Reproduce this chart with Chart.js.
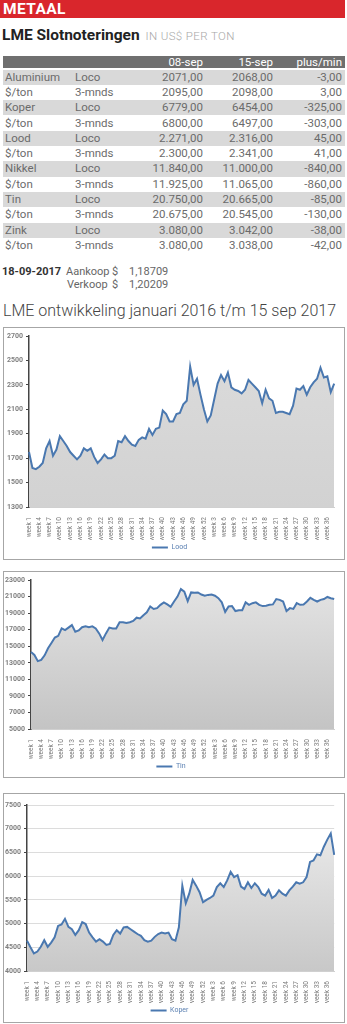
<!DOCTYPE html>
<html>
<head>
<meta charset="utf-8">
<script src="https://cdn.jsdelivr.net/npm/chart.js@4.4.0/dist/chart.umd.min.js"></script>
<style>
  body { margin: 0; width: 347px; height: 1024px; background: #fff; position: relative; overflow: hidden;
         font-family: Roboto, "DejaVu Sans", sans-serif; }
  .bar { position: absolute; left: 0; top: 0; width: 345px; height: 18px; background: #d9262c; }
  .bar span { position: absolute; left: 3px; top: 0; line-height: 19px; font-size: 15.5px; font-weight: 700; color: #fff; letter-spacing: 0.4px; }
  .title { position: absolute; left: 2px; top: 26px; font-size: 15.5px; font-weight: 700; color: #222; white-space: nowrap; }
  .title small { font-size: 11.5px; font-weight: 300; color: #a8a8a8; margin-left: 2px; letter-spacing: 0.4px; }
  .row { position: absolute; left: 3px; width: 342px; height: 15.3px; line-height: 15.3px; font-size: 11.5px; color: #6b6b6b; }
  .row.grey { background: #d9d9d9; }
  .row.head { height: 12px; line-height: 13px; background: #6f6f6f; color: #fff; }
  .row div { position: absolute; top: 0; white-space: nowrap; }
  .c1 { left: 2px; } .c2 { left: 72px; }
  .c3 { right: 142px; } .c4 { right: 72px; } .c5 { right: 3px; }
  .rate { position: absolute; font-size: 11px; color: #666; white-space: nowrap; line-height: 13px; }
  .rate b { color: #333; }
  .sub { position: absolute; left: 3px; top: 301px; font-size: 16px; font-weight: 300; color: #444; white-space: nowrap; }
  .box { position: absolute; left: 3px; width: 342px; border: 1px solid #a6a6a6; box-sizing: border-box; }
  .box canvas { display: block; }
</style>
</head>
<body>
<div class="bar"><span>METAAL</span></div>
<div class="title">LME Slotnoteringen <small>IN US$ PER TON</small></div>
<div id="table"></div>
<div class="rate" style="left:2px;top:265px"><b>18-09-2017</b></div>
<div class="rate" style="left:66px;top:265px">Aankoop</div>
<div class="rate" style="left:67px;top:278px">Verkoop</div>
<div class="rate" style="left:112px;top:265px">$</div>
<div class="rate" style="left:112px;top:278px">$</div>
<div class="rate" style="left:129px;top:265px">1,18709</div>
<div class="rate" style="left:129px;top:278px">1,20209</div>
<div class="sub">LME ontwikkeling januari 2016 t/m 15 sep 2017</div>

<div class="box" style="top:327px;height:233px"><canvas id="loodChart" width="340" height="231"></canvas></div>
<div class="box" style="top:571px;height:207px"><canvas id="tinChart" width="340" height="205"></canvas></div>
<div class="box" style="top:793px;height:230px"><canvas id="koperChart" width="340" height="228"></canvas></div>

<script>
// Table values
const metalNames = ['Aluminium', '$/ton', 'Koper', '$/ton', 'Lood', '$/ton', 'Nikkel', '$/ton', 'Tin', '$/ton', 'Zink', '$/ton'];
const terms = ['Loco', '3-mnds', 'Loco', '3-mnds', 'Loco', '3-mnds', 'Loco', '3-mnds', 'Loco', '3-mnds', 'Loco', '3-mnds'];
const price08sep = ['2071,00', '2095,00', '6779,00', '6800,00', '2.271,00', '2.300,00', '11.840,00', '11.925,00', '20.750,00', '20.675,00', '3.080,00', '3.080,00'];
const price15sep = ['2068,00', '2098,00', '6454,00', '6497,00', '2.316,00', '2.341,00', '11.000,00', '11.065,00', '20.665,00', '20.545,00', '3.042,00', '3.038,00'];
const plusMin = ['-3,00', '3,00', '-325,00', '-303,00', '45,00', '41,00', '-840,00', '-860,00', '-85,00', '-130,00', '-38,00', '-42,00'];

// Chart categories: weeks of 2016, then weeks of 2017
const labels = [];
for (let w = 1; w <= 52; w++) labels.push('week ' + w);
for (let w = 1; w <= 38; w++) labels.push('week ' + w);

// Weekly closing values
const lood = [
  1750, 1620, 1610, 1630, 1660, 1780, 1840, 1720, 1770, 1880,
  1840, 1800, 1750, 1720, 1690, 1720, 1780, 1760, 1780, 1710,
  1660, 1690, 1730, 1700, 1700, 1720, 1840, 1830, 1880, 1840,
  1810, 1800, 1850, 1870, 1860, 1940, 1890, 1940, 1950, 2090,
  2060, 2000, 2000, 2060, 2070, 2140, 2170, 2450, 2300, 2350,
  2220, 2100,
  2000, 2050, 2180, 2310, 2380, 2330, 2400, 2280, 2260, 2250,
  2230, 2260, 2340, 2310, 2280, 2250, 2150, 2260, 2190, 2170,
  2070, 2080, 2080, 2070, 2060, 2130, 2270, 2260, 2290, 2220,
  2280, 2320, 2350, 2440, 2360, 2370, 2240, 2310
];
const tin = [
  14300, 13950, 13200, 13350, 13900, 14750, 15400, 16050, 16250, 17150,
  16950, 17250, 17550, 16750, 16900, 17300, 17400, 17300, 17400, 17150,
  16550, 15750, 16550, 17250, 17150, 17150, 17900, 17900, 17800, 17900,
  18050, 18450, 18350, 18750, 19100, 19800, 19500, 19600, 20000, 20300,
  20050, 19750, 20400, 21000, 21900, 21600, 20450, 21500, 21450, 21500,
  21250, 21100,
  21200, 21250, 21100, 20800, 20300, 19150, 19800, 19850, 19250, 19350,
  19350, 20300, 20000, 20200, 20300, 20000, 19850, 19900, 20000, 20050,
  20700, 20600, 20400, 19250, 19600, 19500, 20200, 20000, 20050, 20400,
  20850, 20600, 20400, 20600, 20700, 20950, 20800, 20700
];
const koper = [
  4640, 4500, 4370, 4410, 4510, 4650, 4510, 4600, 4710, 4950,
  4980, 5100, 4930, 4880, 4760, 4860, 5030, 4990, 4810, 4710,
  4620, 4670, 4620, 4550, 4570, 4760, 4860, 4790, 4920, 4930,
  4880, 4830, 4780, 4740, 4650, 4620, 4640, 4720, 4780, 4810,
  4790, 4810, 4670, 4640, 4920, 5800, 5430, 5630, 5920, 5800,
  5660, 5450,
  5500, 5540, 5590, 5770, 5850, 5770, 5910, 6090, 5980, 6020,
  5780, 5730, 5870, 5750, 5850, 5770, 5630, 5590, 5710, 5540,
  5590, 5700, 5630, 5590, 5700, 5780, 5870, 5840, 5870, 5980,
  6300, 6330, 6460, 6440, 6620, 6770, 6900, 6450
];

// Build the price table
const table = document.getElementById('table');
function addRow(top, cls, cells) {
    const row = document.createElement('div');
    row.className = 'row ' + cls;
    row.style.top = top + 'px';
    cells.forEach((text, i) => {
        const cell = document.createElement('div');
        cell.className = 'c' + (i + 1);
        cell.textContent = text;
        row.appendChild(cell);
    });
    table.appendChild(row);
}
addRow(56, 'head', ['', '', '08-sep', '15-sep', 'plus/min']);
metalNames.forEach((name, i) => {
    addRow(69.6 + i * 15.3, i % 2 === 0 ? 'grey' : '', [name, terms[i], price08sep[i], price15sep[i], plusMin[i]]);
});

const LINE = '#4a78b0';

function areaFill(top, bottom) {
    return function(ctx) {
        const area = ctx.chart.chartArea;
        if (!area) return bottom;
        const g = ctx.chart.ctx.createLinearGradient(0, area.top, 0, area.bottom);
        g.addColorStop(0, top);
        g.addColorStop(1, bottom);
        return g;
    };
}

function makeChart(id, name, values, yMin, yMax, yStep, box) {
    return new Chart(document.getElementById(id), {
        type: 'line',
        data: {
            labels: labels,
            datasets: [{
                label: name,
                data: values,
                borderColor: LINE,
                borderWidth: 2,
                pointRadius: 0,
                tension: 0,
                fill: 'start',
                backgroundColor: areaFill(box.fillTop, box.fillBottom)
            }]
        },
        options: {
            responsive: false,
            animation: false,
            layout: { padding: { top: box.top, right: box.right, bottom: box.bottom, left: 0 } },
            plugins: {
                tooltip: { enabled: false },
                legend: {
                    position: 'bottom',
                    labels: {
                        usePointStyle: true,
                        pointStyle: 'line',
                        pointStyleWidth: 16,
                        padding: 4,
                        color: '#5b80b2',
                        font: { size: 7, family: 'Roboto' }
                    }
                }
            },
            scales: {
                x: {
                    afterFit: s => { s.height = box.xh; },
                    grid: { display: false },
                    border: { color: '#d0d0d0' },
                    ticks: {
                        autoSkip: false,
                        maxRotation: 90,
                        minRotation: 90,
                        padding: 2,
                        color: '#7a7a7a',
                        font: { size: 6.5, family: 'Roboto' },
                        callback: (v, i) => i % 3 === 0 ? labels[i] : ''
                    }
                },
                y: {
                    min: yMin,
                    max: yMax,
                    afterFit: s => { s.width = box.left; },
                    border: { color: '#444', width: 1.5 },
                    grid: { drawOnChartArea: box.grid, color: '#dcdcdc', tickColor: '#444', tickLength: 3 },
                    ticks: {
                        stepSize: yStep,
                        padding: 3,
                        color: '#808080',
                        font: { size: 7, weight: 'bold', family: 'Roboto' },
                        callback: v => String(v)
                    }
                }
            }
        }
    });
}

makeChart('loodChart', 'Lood', lood, 1300, 2700, 200,
    { left: 25, top: 8, right: 9, bottom: -2, xh: 33, grid: false, fillTop: '#dcdcdc', fillBottom: '#d2d2d2' });
makeChart('tinChart', 'Tin', tin, 5000, 23000, 2000,
    { left: 27, top: 8, right: 6, bottom: -3, xh: 30, grid: false, fillTop: '#e4e4e4', fillBottom: '#c4c4c4' });
makeChart('koperChart', 'Koper', koper, 4000, 7500, 500,
    { left: 23, top: 11, right: 9, bottom: -2, xh: 32, grid: true, fillTop: '#efefef', fillBottom: '#c8c8c8' });
</script>
</body>
</html>
